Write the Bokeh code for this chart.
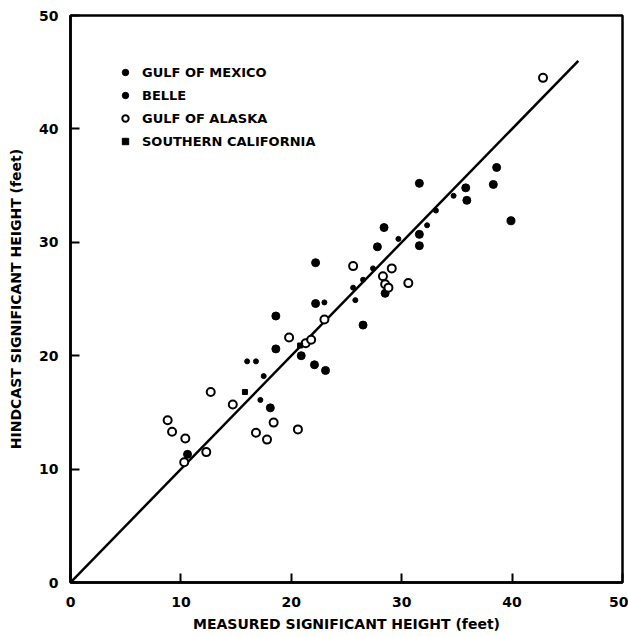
from bokeh.plotting import figure
from bokeh.models import Legend, LegendItem, FixedTicker, Range1d
from bokeh.embed import file_html
from bokeh.resources import INLINE

# ---- data (feet) ----
mexico_x = [38.6, 38.3, 39.9, 31.6, 35.8, 35.9, 31.6, 31.6, 28.4, 27.8, 28.5,
            22.2, 26.5, 18.6, 22.2, 18.1, 22.1, 23.1, 20.9, 18.6, 10.6]
mexico_y = [36.6, 35.1, 31.9, 35.2, 34.8, 33.7, 30.7, 29.7, 31.3, 29.6, 25.5,
            28.2, 22.7, 23.5, 24.6, 15.4, 19.2, 18.7, 20.0, 20.6, 11.3]

belle_x = [34.7, 33.1, 32.3, 29.7, 27.4, 26.5, 25.6, 25.8, 23.0, 17.5, 16.0, 16.8, 17.2]
belle_y = [34.1, 32.8, 31.5, 30.3, 27.7, 26.7, 26.0, 24.9, 24.7, 18.2, 19.5, 19.5, 16.1]

alaska_x = [42.8, 25.6, 29.1, 30.6, 28.3, 28.5, 28.8, 23.0, 19.8, 21.3, 21.8,
            12.7, 14.7, 8.8, 9.2, 18.4, 20.6, 16.8, 17.8, 10.4, 12.3, 10.3]
alaska_y = [44.5, 27.9, 27.7, 26.4, 27.0, 26.3, 26.0, 23.2, 21.6, 21.1, 21.4,
            16.8, 15.7, 14.3, 13.3, 14.1, 13.5, 13.2, 12.6, 12.7, 11.5, 10.6]

socal_x = [15.8, 20.8]
socal_y = [16.8, 20.9]

fit_x = [0, 46]
fit_y = [0, 46]

ticks = [0, 10, 20, 30, 40, 50]
labels = ["GULF OF MEXICO", "BELLE", "GULF OF ALASKA", "SOUTHERN CALIFORNIA"]

FONT = "DejaVu Sans"

p = figure(width=628, height=637, output_backend="svg", toolbar_location=None,
           x_range=Range1d(0, 50), y_range=Range1d(0, 50),
           min_border_left=70, min_border_right=6, min_border_top=15, min_border_bottom=55)
p.xgrid.visible = False
p.ygrid.visible = False
p.outline_line_color = "black"
p.outline_line_width = 2.5
p.background_fill_color = "white"
p.border_fill_color = "white"

for ax in (p.xaxis[0], p.yaxis[0]):
    ax.ticker = FixedTicker(ticks=ticks)
    ax.minor_tick_line_color = None
    ax.major_tick_in = 9
    ax.major_tick_out = 0
    ax.major_tick_line_width = 2
    ax.axis_line_width = 2.5
    ax.major_label_text_font = FONT
    ax.major_label_text_font_style = "bold"
    ax.major_label_text_font_size = "14px"
    ax.major_label_text_color = "black"
    ax.axis_label_text_font = FONT
    ax.axis_label_text_font_style = "bold"
    ax.axis_label_text_font_size = "14px"
    ax.axis_label_text_color = "black"

p.xaxis.axis_label = "MEASURED SIGNIFICANT HEIGHT (feet)"
p.yaxis.axis_label = "HINDCAST SIGNIFICANT HEIGHT (feet)"
p.xaxis.major_label_standoff = 14
p.yaxis.major_label_standoff = 12
p.xaxis.axis_label_standoff = 6
p.yaxis.axis_label_standoff = 12

p.line(fit_x, fit_y, line_color="black", line_width=2.5)

r_mex = p.scatter(mexico_x, mexico_y, marker="circle", size=8, fill_color="black", line_color="black")
r_belle = p.scatter(belle_x, belle_y, marker="circle", size=5, fill_color="black", line_color="black")
r_ala = p.scatter(alaska_x, alaska_y, marker="circle", size=8, fill_color="white",
                  line_color="black", line_width=2)
r_soc = p.scatter(socal_x, socal_y, marker="square", size=5, fill_color="black", line_color="black")

legend = Legend(items=[LegendItem(label=labels[0], renderers=[r_mex]),
                       LegendItem(label=labels[1], renderers=[r_belle]),
                       LegendItem(label=labels[2], renderers=[r_ala]),
                       LegendItem(label=labels[3], renderers=[r_soc])],
                location=(47, 433), padding=0, margin=0, spacing=7,
                glyph_height=16, glyph_width=16, label_height=16, label_standoff=9,
                border_line_color=None, background_fill_alpha=0,
                label_text_font=FONT, label_text_font_style="bold",
                label_text_font_size="13px", label_text_color="black")
p.add_layout(legend)

open("out.html", "w").write(file_html(p, INLINE))
